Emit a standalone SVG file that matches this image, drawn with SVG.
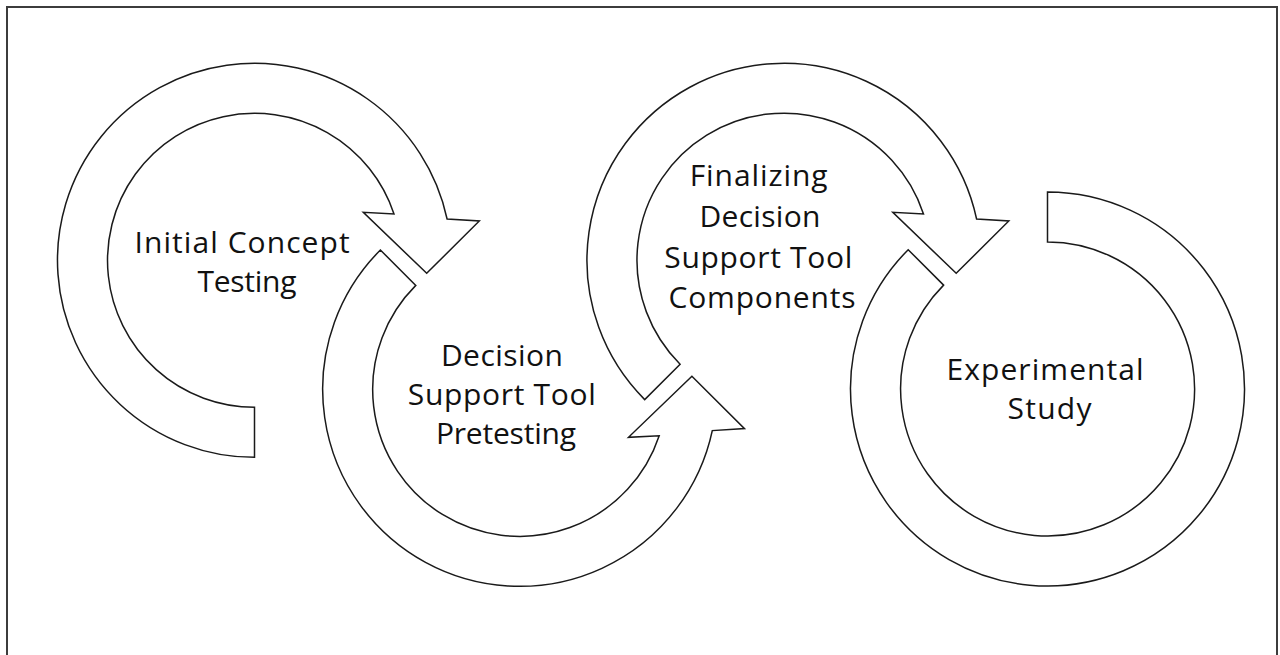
<svg xmlns="http://www.w3.org/2000/svg" width="1280" height="655" viewBox="0 0 1280 655">
  <style>
    .arrow { fill: #ffffff; stroke: #1a1a1a; stroke-width: 1.5; stroke-linejoin: miter; }
    .label { font-family: "Open Sans", "Noto Sans", "Liberation Sans", sans-serif; font-size: 30px; fill: #111111; text-anchor: middle; }
    .frame { fill: none; stroke: #3c3c3c; stroke-width: 2; }
  </style>

  <!-- outer border (open at the bottom edge of the canvas) -->
  <path class="frame" d="M7,656 V7 H1277 V656"/>

  <!-- stage 1: clockwise arc, tail at the bottom, head pointing down-right -->
  <g id="initial-concept-testing">
    <path class="arrow" d="M254.5,457.3 A197,197 0 1 1 447.1,219 L479.3,221 L426.7,273.3 L363.3,212.3 L394,213.9 A147,147 0 1 0 254.5,407.3 Z"/>
    <text class="label">
      <tspan x="246.5" y="253" textLength="215" lengthAdjust="spacing">Initial Concept</tspan>
      <tspan x="247" y="292" textLength="99" lengthAdjust="spacing">Testing</tspan>
    </text>
  </g>

  <!-- stage 2: counter-clockwise arc, tail upper-left, head pointing up-right -->
  <g id="dst-pretesting">
    <path class="arrow" d="M380.4,250 A197,197 0 1 0 712.3,430.6 L744.5,428.6 L691.9,376.3 L628.5,437.3 L659.2,435.7 A147,147 0 1 1 415.8,285.4 Z"/>
    <text class="label">
      <tspan x="506" y="366" textLength="122" lengthAdjust="spacing">Decision</tspan>
      <tspan x="506" y="405" textLength="188" lengthAdjust="spacing">Support Tool</tspan>
      <tspan x="506" y="444" textLength="140" lengthAdjust="spacing">Pretesting</tspan>
    </text>
  </g>

  <!-- stage 3: clockwise arc, tail lower-left, head pointing down-right -->
  <g id="finalizing-components">
    <path class="arrow" d="M644.7,399.6 A197,197 0 1 1 976.6,219 L1008.8,221 L956.2,273.3 L892.8,212.3 L923.5,213.9 A147,147 0 1 0 680.1,364.2 Z"/>
    <text class="label">
      <tspan x="763" y="186" textLength="138" lengthAdjust="spacing">Finalizing</tspan>
      <tspan x="764" y="227" textLength="121" lengthAdjust="spacing">Decision</tspan>
      <tspan x="762.5" y="268" textLength="188" lengthAdjust="spacing">Support Tool</tspan>
      <tspan x="762" y="308" textLength="187" lengthAdjust="spacing">Components</tspan>
    </text>
  </g>

  <!-- stage 4: open ring, square end at the top, cut end upper-left -->
  <g id="experimental-study">
    <path class="arrow" d="M1047.5,192 A197,197 0 1 1 908.2,249.7 L943.6,285.1 A147,147 0 1 0 1047.5,242 Z"/>
    <text class="label">
      <tspan x="1049.5" y="380" textLength="197" lengthAdjust="spacing">Experimental</tspan>
      <tspan x="1049.5" y="419" textLength="84" lengthAdjust="spacing">Study</tspan>
    </text>
  </g>
</svg>
